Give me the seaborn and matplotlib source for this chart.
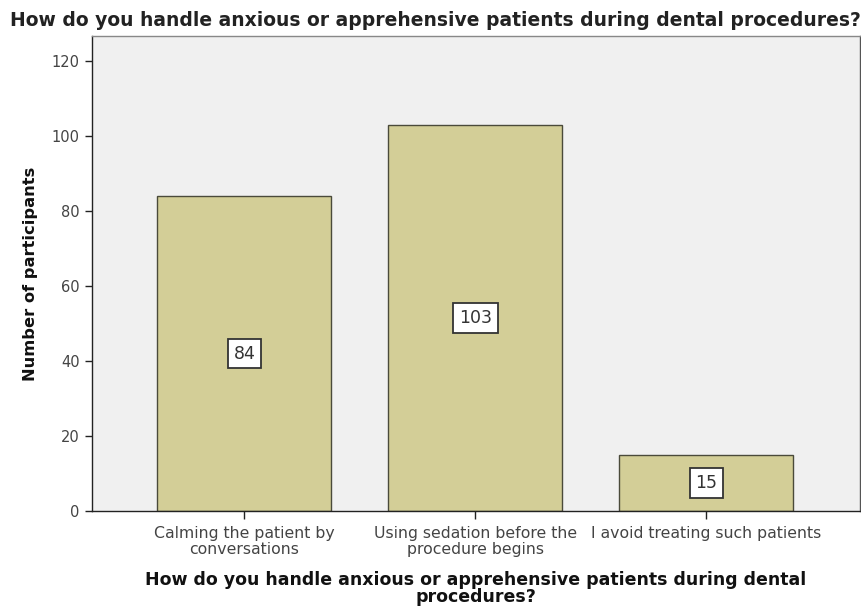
import matplotlib
matplotlib.use("Agg")
import matplotlib.pyplot as plt
import seaborn as sns
import pandas as pd

categories = ["Calming the patient by\nconversations",
              "Using sedation before the\nprocedure begins",
              "I avoid treating such patients"]
counts = [84, 103, 15]
yticks = [0, 20, 40, 60, 80, 100, 120]
title = "How do you handle anxious or apprehensive patients during dental procedures?"
xlabel = "How do you handle anxious or apprehensive patients during dental\nprocedures?"
ylabel = "Number of participants"

sns.set_style("white")
plt.rcParams['font.family'] = ['DejaVu Sans']

df = pd.DataFrame({"cat": categories, "n": counts})

W, H = 862, 606
L, R, T, B = 91.5, 860, 36, 511
fig = plt.figure(figsize=(W / 100, H / 100), dpi=100)
ax = fig.add_axes([L / W, 1 - B / H, (R - L) / W, (B - T) / H])
ax.set_facecolor("#F0F0F0")

sns.barplot(data=df, x="cat", y="n", ax=ax, color="#D3CE97", width=0.753,
            edgecolor="#4a4a3a", linewidth=1.0, saturation=1)

for i, v in enumerate(counts):
    ax.text(i, v / 2, str(v), ha="center", va="center", fontsize=12.5, color="#333333",
            bbox=dict(boxstyle="square,pad=0.33", facecolor="white", edgecolor="#333333", linewidth=1.3))

ax.set_ylim(0, 126.7)
ax.set_xlim(-0.662, 2.665)
ax.set_yticks(yticks)
ax.tick_params(axis="both", direction="out", length=5, width=1, color="#222222",
               labelsize=10.5, labelcolor="#444444", left=True, bottom=True)
ax.tick_params(axis="x", labelsize=11.3, pad=5, length=6)
for s in ax.spines.values():
    s.set_color("#222222")
    s.set_linewidth(1)
ax.spines["right"].set_color("#555555")
ax.spines["top"].set_color("#888888")

ax.set_xlabel(xlabel, fontsize=12.5, fontweight="bold", color="#111111", labelpad=10.5, linespacing=0.88)
ax.set_ylabel(ylabel, fontsize=11.7, fontweight="bold", color="#111111", labelpad=10)
fig.text(435 / W, 1 - 20 / H, title, ha="center", va="center", fontsize=13.5, fontweight="bold",
         color="#222222")

for lbl in ax.get_xticklabels():
    lbl.set_linespacing(1.05)

fig.savefig("out.png", dpi=100, facecolor="white")
